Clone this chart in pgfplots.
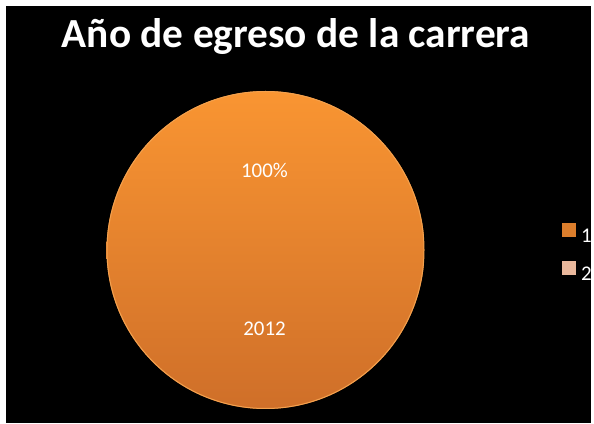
\documentclass[border=0pt]{standalone}
\usepackage{pgfplots}
\pgfplotsset{compat=1.18}
\usepackage{pgfplotstable}
\usepackage{fontspec}
\setmainfont{Carlito}

\definecolor{pieTop}{HTML}{F99532}
\definecolor{pieBot}{HTML}{CF6F29}
\definecolor{pieRim}{HTML}{F3A14E}
\definecolor{legA}{HTML}{DC7E2C}
\definecolor{legB}{HTML}{EAB89C}

% share of graduates by year of graduation
\pgfplotstableread{
year share
2012 100
}\egreso
\pgfplotstablegetelem{0}{share}\of\egreso
\edef\shareval{\pgfplotsretval}
\pgfplotstablegetelem{0}{year}\of\egreso
\edef\yearval{\pgfplotsretval}
\pgfmathsetmacro\sweep{3.6*\shareval}
\newcommand\legfont{\fontsize{21}{25}\selectfont}

\begin{document}
\begin{tikzpicture}
\begin{axis}[
    width=594bp, height=424bp, scale only axis,
    xmin=0, xmax=594, ymin=0, ymax=424,
    axis lines=none, ticks=none, clip=false,
    legend image code/.code={\path[#1] (0bp,-0.5bp) rectangle (14bp,13.5bp);},
    legend style={at={(axis cs:562,201)}, anchor=north west, draw=none, fill=none,
        text=white, inner sep=0pt, outer sep=0pt, font=\legfont,
        row sep=17bp, column sep=0pt, legend cell align=left,
        nodes={inner sep=0pt, outer sep=0pt, font=\legfont},
        /tikz/every odd column/.append style={column sep=5bp}},
]
\fill[white] (axis cs:0,0) rectangle (axis cs:594,424);
\fill[black] (axis cs:6,1) rectangle (axis cs:591,418);

\fill[top color=pieTop, bottom color=pieBot]
    (axis cs:265.5,174) ++(90:159bp)
    arc[start angle=90, end angle=90-\sweep, radius=159bp] -- (axis cs:265.5,174) -- cycle;
\draw[pieRim, line width=1bp] (axis cs:265.5,174) circle[radius=158.5bp];

\node[text=white, font=\fontsize{21}{24}\selectfont, anchor=base] at (axis cs:264.5,246) {\shareval\%};
\node[text=white, font=\fontsize{21}{24}\selectfont, anchor=base] at (axis cs:264.5,88) {\yearval};

\node[text=white, font=\bfseries\fontsize{41.5}{48}\selectfont, anchor=base] at (axis cs:296,376) {Año de egreso de la carrera};

\addlegendimage{fill=legA, draw=none}
\addlegendentry{\legfont 1}
\addlegendimage{fill=legB, draw=none}
\addlegendentry{\legfont 2}
\end{axis}
\end{tikzpicture}
\end{document}
